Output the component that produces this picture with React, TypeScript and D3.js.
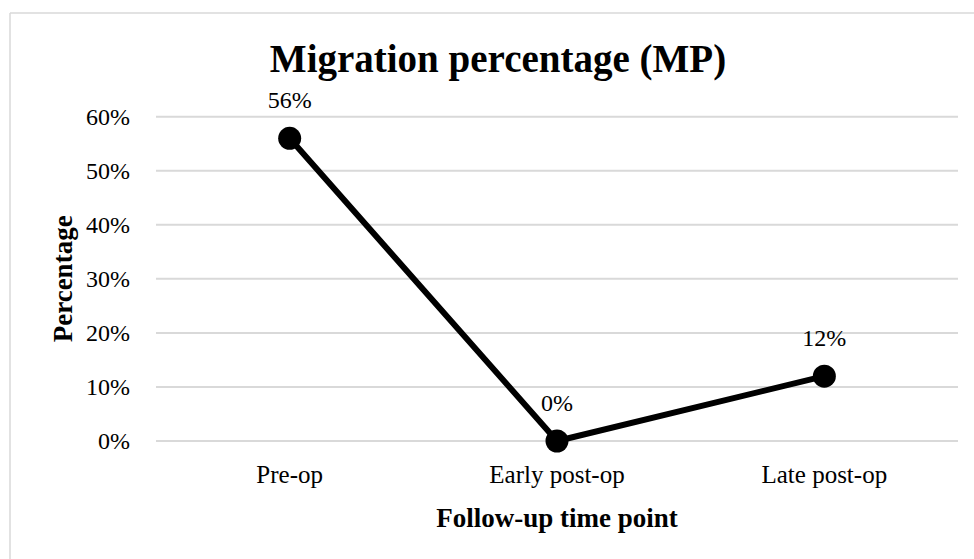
import React from "react";
import * as d3 from "d3";

const categories = ["Pre-op", "Early post-op", "Late post-op"];
const values = [56, 0, 12];
const yTicks = [0, 10, 20, 30, 40, 50, 60];
const title = "Migration percentage (MP)";
const xTitle = "Follow-up time point";
const yTitle = "Percentage";

const W = 974;
const H = 559;
const FONT = "'Liberation Serif', 'Times New Roman', serif";

export default function App() {
  const plotLeft = 156;
  const plotRight = 958;
  const plotTop = 116.7;
  const plotBottom = 441;

  const x = d3.scaleBand<string>().domain(categories).range([plotLeft, plotRight]).padding(0);
  const y = d3.scaleLinear().domain([0, 60]).range([plotBottom, plotTop]);
  const cx = (c: string) => (x(c) as number) + x.bandwidth() / 2;

  const line = d3
    .line<number>()
    .x((_, i) => cx(categories[i]))
    .y((d) => y(d));

  return (
    <svg
      width={W}
      height={H}
      style={{ position: "absolute", left: 0, top: 0, background: "#fff" }}
      fontFamily={FONT}
    >
      <rect x={0} y={0} width={W} height={H} fill="#fff" />
      {/* outer frame (top and left visible) */}
      <line x1={10} y1={13} x2={W} y2={13} stroke="#d9d9d9" strokeWidth={1.5} />
      <line x1={10} y1={13} x2={10} y2={H} stroke="#d9d9d9" strokeWidth={1.5} />

      <text x={498} y={72} textAnchor="middle" fontSize={39} fontWeight="bold" fill="#000">
        {title}
      </text>

      {yTicks.map((t) => (
        <g key={t}>
          <line x1={plotLeft} x2={plotRight} y1={y(t)} y2={y(t)} stroke="#d9d9d9" strokeWidth={2} />
          <text x={130} y={y(t)} dy="0.33em" textAnchor="end" fontSize={24} fill="#000">
            {t + "%"}
          </text>
        </g>
      ))}

      {categories.map((c) => (
        <text key={c} x={cx(c)} y={483} textAnchor="middle" fontSize={25} fill="#000">
          {c}
        </text>
      ))}

      <text x={(plotLeft + plotRight) / 2} y={527} textAnchor="middle" fontSize={27} fontWeight="bold" fill="#000">
        {xTitle}
      </text>
      <text
        transform={`translate(72,${(plotTop + plotBottom) / 2}) rotate(-90)`}
        textAnchor="middle"
        fontSize={27}
        fontWeight="bold"
        fill="#000"
      >
        {yTitle}
      </text>

      <path d={line(values) || ""} fill="none" stroke="#000" strokeWidth={6} strokeLinejoin="round" />
      {values.map((v, i) => (
        <g key={i}>
          <circle cx={cx(categories[i])} cy={y(v)} r={11.5} fill="#000" />
          <text x={cx(categories[i])} y={y(v) - 30} textAnchor="middle" fontSize={24} fill="#000">
            {v + "%"}
          </text>
        </g>
      ))}
    </svg>
  );
}
